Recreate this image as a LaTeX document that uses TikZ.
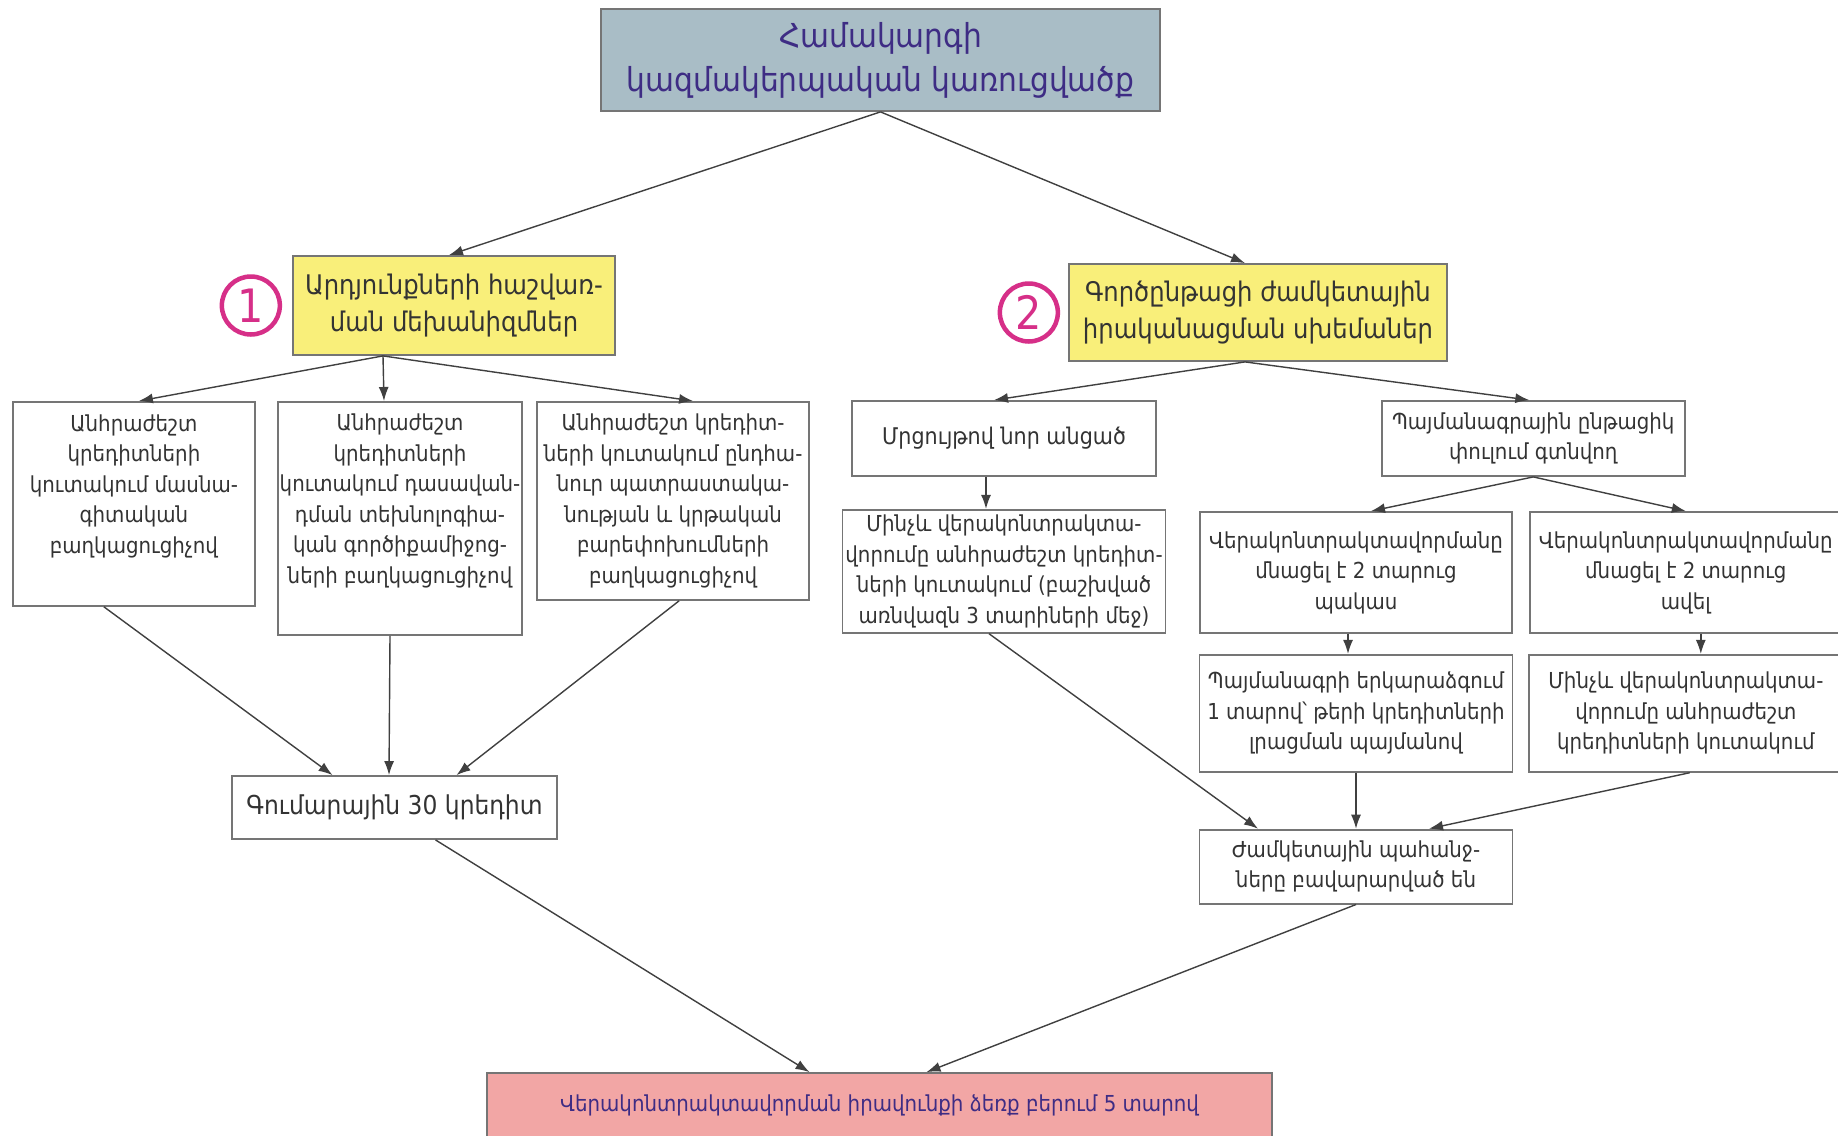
\documentclass[tikz,border=0pt]{standalone}
\usepackage{fontspec}
\setmainfont{DejaVu Sans}[FakeStretch=0.9]
\usepackage{tikz}
\usetikzlibrary{positioning, arrows.meta}
\usepackage{color}
\definecolor{topblue}{HTML}{A9BDC6}
\definecolor{keyyellow}{HTML}{F9EF7A}
\definecolor{respink}{HTML}{F2A6A5}
\definecolor{ringpink}{HTML}{D62F88}
\definecolor{inkpurple}{HTML}{3E2C84}
\definecolor{framegray}{HTML}{757575}
\definecolor{inkgray}{HTML}{333333}

\begin{document}
\begin{tikzpicture}[x=1pt, y=-1pt, node distance=20pt,
  box/.style={draw=framegray, line width=1.8pt, fill=white, text=inkgray, align=center, inner sep=2pt, font=\fontsize{22}{30.5}\selectfont},
  headbox/.style={box, fill=topblue, text=inkpurple, font=\fontsize{33}{44}\selectfont},
  keybox/.style={box, fill=keyyellow, text=inkgray, font=\fontsize{27}{37}\selectfont},
  resbox/.style={box, fill=respink, text=inkpurple, font=\fontsize{22}{28}\selectfont},
  numring/.style={circle, draw=ringpink, line width=4.5pt, text=ringpink, minimum size=58pt, inner sep=0pt, font=\fontsize{46}{46}\selectfont},
  conn/.style={draw=black!75, line width=1.4pt, -{Latex[length=14pt, width=10pt]}}]

  \path[fill=white, use as bounding box] (0,0) rectangle (1838,1135);

  \node[headbox, minimum width=559pt, minimum height=102pt] (top) at (880.5,60) {Համակարգի\\կազմակերպական կառուցվածք};

  \node[keybox, minimum width=322pt, minimum height=99pt] (b1) at (454,305.5) {Արդյունքների հաշվառ-\\ման մեխանիզմներ};
  \node[keybox, minimum width=378pt, minimum height=97pt] (b2) at (1258,312.5) {Գործընթացի ժամկետային\\իրականացման սխեմաներ};
  \node[numring, left = 10pt of b1] (n1) {1};
  \node[numring, left = 8pt of b2] (n2) {2};

  % left branch
  \node[box, minimum width=242pt, minimum height=204pt, anchor=north west] (l1) at (12,401) {Անհրաժեշտ\\կրեդիտների\\կուտակում մասնա-\\գիտական\\բաղկացուցիչով\\ \strut};
  \node[box, minimum width=244pt, minimum height=233pt, below right = 0pt and 21pt of l1.north east] (l2) {Անհրաժեշտ\\կրեդիտների\\կուտակում դասավան-\\դման տեխնոլոգիա-\\կան գործիքամիջոց-\\ների բաղկացուցիչով\\ \strut};
  \node[box, minimum width=272pt, minimum height=198pt, below right = 0pt and 13pt of l2.north east] (l3) {Անհրաժեշտ կրեդիտ-\\ների կուտակում ընդհա-\\նուր պատրաստակա-\\նության և կրթական\\բարեփոխումների\\բաղկացուցիչով};
  \node[box, minimum width=325pt, minimum height=63pt, font=\fontsize{26}{30}\selectfont] (sum) at (394.5,807.5) {Գումարային 30 կրեդիտ};

  % right branch
  \node[box, minimum width=304pt, minimum height=75pt, font=\fontsize{23}{30}\selectfont] (r1) at (1004,438.5) {Մրցույթով նոր անցած};
  \node[box, minimum width=323pt, minimum height=123pt, below = 32pt of r1] (r1b) {Մինչև վերակոնտրակտա-\\վորումը անհրաժեշտ կրեդիտ-\\ների կուտակում (բաշխված\\առնվազն 3 տարիների մեջ)};
  \node[box, minimum width=303pt, minimum height=75pt, right = 224pt of r1] (r2) {Պայմանագրային ընթացիկ\\փուլում գտնվող};
  \node[box, minimum width=312pt, minimum height=121pt] (r2a) at (1356,572.5) {Վերակոնտրակտավորմանը\\մնացել է 2 տարուց\\պակաս};
  \node[box, minimum width=312pt, minimum height=121pt, right = 16pt of r2a] (r2b) {Վերակոնտրակտավորմանը\\մնացել է 2 տարուց\\ավել};
  \node[box, minimum width=313pt, minimum height=117pt, below = 20pt of r2a] (r3a) {Պայմանագրի երկարաձգում\\1 տարով՝ թերի կրեդիտների\\լրացման պայմանով};
  \node[box, minimum width=313pt, minimum height=117pt, below = 20pt of r2b] (r3b) {Մինչև վերակոնտրակտա-\\վորումը անհրաժեշտ\\կրեդիտների կուտակում};
  \node[box, minimum width=313pt, minimum height=74pt, below = 56pt of r3a] (r4) {Ժամկետային պահանջ-\\ները բավարարված են};

  \node[resbox, minimum width=785pt, minimum height=64pt] (fin) at (879.5,1105) {Վերակոնտրակտավորման իրավունքի ձեռք բերում 5 տարով};

  \draw[conn] (top.south) -- ([xshift=-5pt]b1.north);
  \draw[conn] (top.south) -- ([xshift=-13pt]b2.north);

  \draw[conn] ([xshift=-71pt]b1.south) -- ([xshift=5pt]l1.north);
  \draw[conn] ([xshift=-71pt]b1.south) -- ([xshift=-16pt]l2.north);
  \draw[conn] ([xshift=-71pt]b1.south) -- ([xshift=20pt]l3.north);
  \draw[conn] ([xshift=-30pt]l1.south) -- ([xshift=-62pt]sum.north);
  \draw[conn] ([xshift=-10pt]l2.south) -- ([xshift=-5.5pt]sum.north);
  \draw[conn] ([xshift=6pt]l3.south) -- ([xshift=62pt]sum.north);

  \draw[conn] ([xshift=-13pt]b2.south) -- ([xshift=-10pt]r1.north);
  \draw[conn] ([xshift=-13pt]b2.south) -- ([xshift=-4pt]r2.north);
  \draw[conn] ([xshift=-18pt]r1.south) -- ([xshift=-18pt]r1b.north);
  \draw[conn] (r2.south) -- ([xshift=15pt]r2a.north);
  \draw[conn] (r2.south) -- (r2b.north);
  \draw[conn] ([xshift=-8pt]r2a.south) -- ([xshift=-8pt]r3a.north);
  \draw[conn] ([xshift=15pt]r2b.south) -- ([xshift=15pt]r3b.north);
  \draw[conn] ([xshift=-15pt]r1b.south) -- ([xshift=-98pt]r4.north);
  \draw[conn] (r3a.south) -- (r4.north);
  \draw[conn] ([xshift=4pt]r3b.south) -- ([xshift=73pt]r4.north);

  \draw[conn] ([xshift=41pt]sum.south) -- ([xshift=-70pt]fin.north);
  \draw[conn] (r4.south) -- ([xshift=47pt]fin.north);
\end{tikzpicture}
\end{document}
